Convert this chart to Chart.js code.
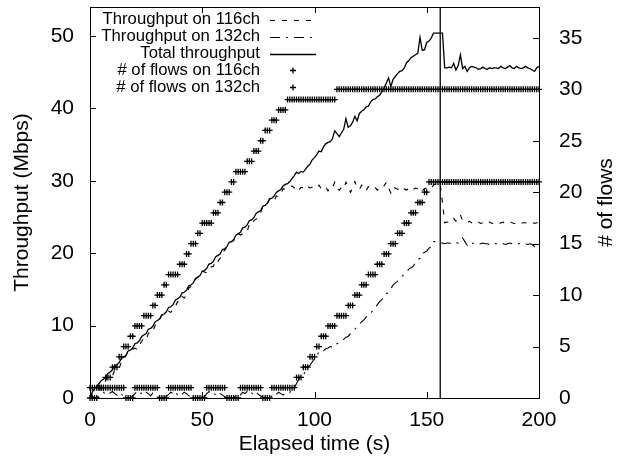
<!DOCTYPE html>
<html>
<head>
<meta charset="utf-8">
<script src="https://cdn.jsdelivr.net/npm/chart.js@4.4.1/dist/chart.umd.min.js"></script>
<style>
  html, body { margin: 0; padding: 0; background: #fff; }
  canvas { display: block; }
</style>
</head>
<body>
<canvas id="flowChart" width="622" height="457"></canvas>
<script>
// ============= data (one sample per second) =============

const seconds = [
    0, 1, 2, 3, 4, 5, 6, 7, 8, 9, 10, 11, 12, 13, 14, 15, 16, 17, 18, 19,
    20, 21, 22, 23, 24, 25, 26, 27, 28, 29, 30, 31, 32, 33, 34, 35, 36, 37, 38, 39,
    40, 41, 42, 43, 44, 45, 46, 47, 48, 49, 50, 51, 52, 53, 54, 55, 56, 57, 58, 59,
    60, 61, 62, 63, 64, 65, 66, 67, 68, 69, 70, 71, 72, 73, 74, 75, 76, 77, 78, 79,
    80, 81, 82, 83, 84, 85, 86, 87, 88, 89, 90, 91, 92, 93, 94, 95, 96, 97, 98, 99,
    100, 101, 102, 103, 104, 105, 106, 107, 108, 109, 110, 111, 112, 113, 114, 115, 116, 117, 118, 119,
    120, 121, 122, 123, 124, 125, 126, 127, 128, 129, 130, 131, 132, 133, 134, 135, 136, 137, 138, 139,
    140, 141, 142, 143, 144, 145, 146, 147, 148, 149, 150, 151, 152, 153, 154, 155, 156, 157, 158, 159,
    160, 161, 162, 163, 164, 165, 166, 167, 168, 169, 170, 171, 172, 173, 174, 175, 176, 177, 178, 179,
    180, 181, 182, 183, 184, 185, 186, 187, 188, 189, 190, 191, 192, 193, 194, 195, 196, 197, 198, 199,
    200
]

// throughput (Mbps)
const thr116 = [
    0.0, 0.6, 1.2, 1.6, 1.7, 1.8, 1.8, 2.4, 3.0, 2.9,
    3.0, 3.9, 4.2, 4.1, 5.0, 5.3, 5.8, 6.5, 6.5, 6.7,
    6.9, 6.7, 7.4, 7.8, 8.3, 8.1, 8.9, 9.3, 9.2, 10.0,
    10.5, 10.9, 11.4, 11.6, 11.7, 12.0, 11.8, 12.3, 12.6, 13.3,
    13.2, 14.0, 13.8, 14.3, 15.2, 15.4, 15.9, 16.4, 16.7, 16.8,
    17.5, 17.4, 17.3, 17.6, 18.1, 18.2, 19.1, 18.9, 19.3, 20.1,
    20.4, 20.9, 21.4, 21.6, 21.7, 22.4, 22.7, 22.5, 22.7, 23.0,
    23.0, 24.0, 23.9, 24.5, 24.7, 25.2, 25.6, 26.4, 26.6, 26.8,
    27.5, 27.3, 27.2, 27.9, 27.8, 28.2, 28.9, 28.8, 29.0, 29.1,
    29.3, 29.0, 29.2, 28.7, 29.1, 29.0, 28.8, 29.2, 29.0, 29.1,
    28.9, 29.0, 29.4, 28.9, 29.0, 29.2, 28.6, 29.1, 29.0, 29.8,
    29.0, 28.7, 29.1, 28.9, 29.8, 29.2, 28.4, 29.0, 29.9, 29.1,
    28.8, 29.4, 29.0, 28.6, 29.2, 29.0, 28.9, 29.1, 28.7, 29.0,
    28.9, 29.3, 29.8, 29.0, 28.3, 29.1, 29.0, 28.8, 29.0, 29.2,
    28.9, 28.7, 29.0, 29.1, 28.8, 29.0, 28.9, 29.1, 28.6, 28.9,
    29.0, 29.2, 29.0, 29.4, 29.6, 29.8, 29.5, 27.0, 24.2, 24.3,
    24.2, 24.5, 24.8, 24.4, 24.9, 25.3, 24.5, 24.3, 24.2, 24.4,
    24.2, 24.0, 24.2, 24.3, 24.1, 24.2, 24.0, 24.2, 24.3, 24.1,
    24.2, 24.2, 24.0, 24.2, 24.3, 24.1, 24.2, 24.3, 24.2, 24.1,
    24.2, 24.3, 24.1, 24.2, 24.2, 24.1, 24.2, 24.3, 24.1, 24.2,
    24.2
]

const thr132 = [
    0.0, 0.2, 0.1, 0.0, 0.3, 0.6, 0.8, 0.5, 0.4, 0.7,
    0.9, 0.6, 0.4, 0.8, 0.5, 0.3, 0.1, 0.0, 0.1, 0.2,
    0.6, 0.9, 0.5, 0.7, 0.4, 0.8, 0.6, 0.3, 0.7, 0.5,
    0.2, 0.0, 0.1, 0.0, 0.2, 0.5, 0.8, 0.6, 0.9, 0.4,
    0.7, 0.5, 0.8, 0.6, 0.3, 0.2, 0.0, 0.1, 0.0, 0.1,
    0.0, 0.2, 0.6, 0.9, 0.5, 0.7, 0.4, 0.8, 0.6, 0.4,
    0.2, 0.0, 0.1, 0.0, 0.2, 0.1, 0.0, 0.4, 0.8, 0.6,
    0.9, 0.5, 0.7, 0.4, 0.8, 0.5, 0.3, 0.1, 0.0, 0.1,
    0.0, 0.3, 0.7, 0.5, 0.8, 0.6, 0.4, 0.7, 0.6, 0.8,
    1.0, 1.4, 2.0, 2.6, 2.9, 3.2, 3.7, 4.2, 4.5, 5.0,
    5.4, 5.8, 6.4, 6.3, 6.5, 6.8, 6.9, 7.1, 7.0, 7.4,
    7.5, 7.6, 7.9, 8.1, 8.4, 8.5, 8.9, 9.3, 9.5, 9.9,
    10.2, 10.5, 10.8, 11.2, 11.3, 11.7, 12.1, 12.5, 12.9, 13.3,
    13.6, 13.9, 14.4, 14.6, 15.1, 15.6, 15.9, 16.1, 16.5, 16.8,
    17.1, 17.4, 17.8, 18.0, 18.2, 18.7, 19.1, 19.3, 20.0, 20.1,
    20.3, 20.7, 20.9, 21.6, 21.6, 21.5, 21.4, 21.4, 21.3, 21.4,
    21.4, 21.3, 21.4, 21.5, 21.4, 21.6, 22.1, 21.6, 21.1, 20.9,
    21.3, 21.4, 21.3, 21.2, 21.3, 21.4, 21.3, 21.3, 21.2, 21.3,
    21.4, 21.3, 21.3, 21.4, 21.3, 21.2, 21.3, 21.4, 21.3, 21.3,
    21.2, 21.3, 21.4, 21.3, 21.3, 21.2, 21.3, 21.2, 20.9, 21.3,
    21.4
]

const thrTotal = [
    0.0, 0.8, 1.3, 1.6, 2.0, 2.4, 2.6, 2.9, 3.4, 3.6,
    3.9, 4.5, 4.6, 4.9, 5.5, 5.6, 5.9, 6.5, 6.6, 6.9,
    7.5, 7.6, 7.9, 8.5, 8.7, 8.9, 9.5, 9.6, 9.9, 10.5,
    10.7, 10.9, 11.5, 11.6, 11.9, 12.5, 12.6, 12.9, 13.5, 13.7,
    13.9, 14.5, 14.6, 14.9, 15.5, 15.6, 15.9, 16.5, 16.7, 16.9,
    17.5, 17.6, 17.9, 18.5, 18.6, 18.9, 19.5, 19.7, 19.9, 20.5,
    20.6, 20.9, 21.5, 21.6, 21.9, 22.5, 22.7, 22.9, 23.5, 23.6,
    23.9, 24.5, 24.6, 24.9, 25.5, 25.7, 25.9, 26.5, 26.6, 26.9,
    27.5, 27.6, 27.9, 28.4, 28.6, 28.8, 29.3, 29.5, 29.6, 29.9,
    30.3, 30.7, 31.2, 31.0, 31.3, 31.2, 31.6, 32.0, 32.3, 32.9,
    33.2, 33.6, 34.1, 34.0, 34.7, 35.1, 35.3, 35.4, 35.8, 36.9,
    36.5, 36.1, 36.6, 37.1, 38.6, 37.4, 37.6, 38.1, 38.9, 38.3,
    39.3, 39.6, 39.8, 40.2, 40.3, 40.9, 41.2, 41.3, 41.6, 41.8,
    42.3, 42.8, 43.5, 44.2, 43.0, 44.0, 44.4, 44.8, 45.1, 45.2,
    45.6, 46.3, 46.6, 47.0, 47.2, 47.4, 47.6, 49.8, 48.0, 48.1,
    49.1, 49.3, 49.7, 50.4, 50.4, 50.4, 50.4, 50.4, 45.6, 45.6,
    45.7, 45.6, 46.2, 45.3, 45.9, 47.4, 45.5, 45.8, 45.1, 45.6,
    45.8, 45.7, 45.6, 45.4, 45.5, 45.7, 45.5, 45.4, 45.6, 45.5,
    45.6, 45.6, 45.5, 45.8, 45.6, 45.5, 45.7, 45.9, 45.6, 45.5,
    45.8, 45.6, 45.5, 45.6, 45.8, 45.6, 45.5, 45.3, 45.1, 45.6,
    45.8
]

// number of flows on each channel
const flows116 = [
    1, 1, 1, 1, 1, 1, 1, 2, 2, 2, 3, 3, 3, 4, 4, 5, 5, 5, 6, 6,
    7, 7, 7, 7, 8, 8, 8, 8, 9, 9, 10, 10, 10, 11, 11, 12, 12, 12, 12, 12,
    13, 13, 13, 14, 14, 15, 15, 15, 16, 16, 17, 17, 17, 17, 17, 18, 18, 18, 19, 19,
    20, 20, 20, 21, 21, 22, 22, 22, 22, 22, 23, 23, 23, 24, 24, 24, 25, 25, 26, 26,
    26, 27, 27, 27, 28, 28, 28, 28, 29, 29, 29, 29, 29, 29, 29, 29, 29, 29, 29, 29,
    29, 29, 29, 29, 29, 29, 29, 29, 29, 29, 30, 30, 30, 30, 30, 30, 30, 30, 30, 30,
    30, 30, 30, 30, 30, 30, 30, 30, 30, 30, 30, 30, 30, 30, 30, 30, 30, 30, 30, 30,
    30, 30, 30, 30, 30, 30, 30, 30, 30, 30, 30, 30, 30, 30, 30, 30, 30, 30, 30, 30,
    30, 30, 30, 30, 30, 30, 30, 30, 30, 30, 30, 30, 30, 30, 30, 30, 30, 30, 30, 30,
    30, 30, 30, 30, 30, 30, 30, 30, 30, 30, 30, 30, 30, 30, 30, 30, 30, 30, 30, 30,
    30
]

const flows132 = [
    0, 0, 0, 0, 1, 1, 1, 1, 1, 1, 1, 1, 1, 1, 1, 1, 0, 0, 0, 0,
    1, 1, 1, 1, 1, 1, 1, 1, 1, 1, 1, 0, 0, 0, 0, 1, 1, 1, 1, 1,
    1, 1, 1, 1, 1, 1, 0, 0, 0, 0, 0, 0, 1, 1, 1, 1, 1, 1, 1, 1,
    1, 0, 0, 0, 0, 0, 0, 1, 1, 1, 1, 1, 1, 1, 1, 1, 1, 0, 0, 0,
    0, 1, 1, 1, 1, 1, 1, 1, 1, 1, 1, 1, 2, 2, 2, 3, 3, 3, 4, 4,
    4, 5, 5, 6, 6, 6, 7, 7, 7, 7, 8, 8, 8, 8, 8, 9, 9, 9, 10, 10,
    10, 11, 11, 11, 12, 12, 12, 12, 13, 13, 13, 14, 14, 14, 15, 15, 15, 16, 16, 16,
    17, 17, 17, 18, 18, 18, 19, 19, 19, 20, 20, 21, 21, 21, 21, 21, 21, 21, 21, 21,
    21, 21, 21, 21, 21, 21, 21, 21, 21, 21, 21, 21, 21, 21, 21, 21, 21, 21, 21, 21,
    21, 21, 21, 21, 21, 21, 21, 21, 21, 21, 21, 21, 21, 21, 21, 21, 21, 21, 21, 21,
    21
]

// moment marked by the vertical line (s)
const markerTime = 156

const xTicks = [0, 50, 100, 150, 200]
const yTicks = [0, 10, 20, 30, 40, 50]
const y2Ticks = [0, 5, 10, 15, 20, 25, 30, 35]
const xMax = 200
const yMax = 54
const y2Max = 38

const seriesLabels = [
    'Throughput on 116ch',
    'Throughput on 132ch',
    'Total throughput',
    '# of flows on 116ch',
    '# of flows on 132ch'
]
const axisTitles = { x: 'Elapsed time (s)', y: 'Throughput (Mbps)', y2: '# of flows' }

// ============= drawing =============

const FONT = "'Liberation Sans', Arial, Helvetica, sans-serif"
const pts = values => seconds.map((t, i) => ({ x: t, y: values[i] }))

// gnuplot-like frame, inner ticks, key and axis titles
const gnuplotLook = {
    id: 'gnuplotLook',
    afterDatasetsDraw(chart) {
        const ctx = chart.ctx
        const a = chart.chartArea
        const { x, y, y2 } = chart.scales
        const tick = 6
        ctx.save()
        ctx.strokeStyle = '#000'
        ctx.lineWidth = 1
        ctx.setLineDash([])
        ctx.strokeRect(a.left + 0.5, a.top + 0.5, a.right - a.left, a.bottom - a.top)

        ctx.beginPath()
        x.ticks.forEach(t => {
            const px = Math.round(x.getPixelForValue(t.value)) + 0.5
            ctx.moveTo(px, a.bottom); ctx.lineTo(px, a.bottom - tick)
            ctx.moveTo(px, a.top); ctx.lineTo(px, a.top + tick)
        })
        y.ticks.forEach(t => {
            const py = Math.round(y.getPixelForValue(t.value)) + 0.5
            ctx.moveTo(a.left, py); ctx.lineTo(a.left + tick, py)
        })
        y2.ticks.forEach(t => {
            const py = Math.round(y2.getPixelForValue(t.value)) + 0.5
            ctx.moveTo(a.right, py); ctx.lineTo(a.right - tick, py)
        })
        ctx.stroke()

        // key, top left
        const keyed = chart.data.datasets.filter(d => d.label)
        const textRight = a.left + 170
        const sampleL = textRight + 10
        const sampleR = textRight + 56
        ctx.font = '16.7px ' + FONT
        ctx.fillStyle = '#000'
        ctx.textAlign = 'right'
        ctx.textBaseline = 'middle'
        keyed.forEach((d, i) => {
            const ry = a.top + 12.5 + i * 17
            ctx.fillText(d.label, textRight, ry)
            if (d.showLine) {
                ctx.save()
                ctx.lineWidth = d.borderWidth
                ctx.setLineDash(d.borderDash || [])
                ctx.beginPath()
                ctx.moveTo(sampleL, Math.round(ry) + 0.5)
                ctx.lineTo(sampleR, Math.round(ry) + 0.5)
                ctx.stroke()
                ctx.restore()
            } else {
                const cx = (sampleL + sampleR) / 2
                const r = d.pointRadius
                ctx.save()
                ctx.lineWidth = d.borderWidth
                ctx.beginPath()
                ctx.moveTo(cx - r, ry); ctx.lineTo(cx + r, ry)
                ctx.moveTo(cx, ry - r); ctx.lineTo(cx, ry + r)
                ctx.stroke()
                ctx.restore()
            }
        })

        // axis titles
        ctx.font = '21px ' + FONT
        ctx.textAlign = 'center'
        ctx.textBaseline = 'alphabetic'
        const midY = (a.top + a.bottom) / 2
        ctx.fillText(axisTitles.x, (a.left + a.right) / 2, chart.height - 7)
        ctx.save()
        ctx.translate(28, midY)
        ctx.rotate(-Math.PI / 2)
        ctx.fillText(axisTitles.y, 0, 0)
        ctx.restore()
        ctx.save()
        ctx.translate(chart.width - 10, midY)
        ctx.rotate(-Math.PI / 2)
        ctx.fillText(axisTitles.y2, 0, 0)
        ctx.restore()
        ctx.restore()
    }
}

function axis(position, min, max, tickValues, size, pad) {
    return {
        type: 'linear',
        position: position,
        min: min,
        max: max,
        grid: { display: false, drawTicks: false },
        border: { display: false },
        ticks: {
            color: '#000',
            padding: pad,
            autoSkip: false,
            maxRotation: 0,
            includeBounds: false,
            font: { family: FONT, size: 21 }
        },
        afterBuildTicks: s => { s.ticks = tickValues.map(v => ({ value: v })) },
        afterFit: s => {
            if (position === 'bottom') s.height = size
            else s.width = size
            s.paddingTop = 0
            s.paddingBottom = 0
            s.paddingLeft = 0
            s.paddingRight = 0
        }
    }
}

const ctx = document.getElementById('flowChart').getContext('2d')

new Chart(ctx, {
    type: 'scatter',
    data: {
        datasets: [
            {
                label: seriesLabels[0],
                data: pts(thr116),
                yAxisID: 'y',
                showLine: true,
                borderColor: '#000',
                borderWidth: 1.1,
                borderDash: [5, 7],
                pointRadius: 0,
                tension: 0
            },
            {
                label: seriesLabels[1],
                data: pts(thr132),
                yAxisID: 'y',
                showLine: true,
                borderColor: '#000',
                borderWidth: 1.1,
                borderDash: [10, 6, 2, 6],
                pointRadius: 0,
                tension: 0
            },
            {
                label: seriesLabels[2],
                data: pts(thrTotal),
                yAxisID: 'y',
                showLine: true,
                borderColor: '#000',
                borderWidth: 1.3,
                pointRadius: 0,
                tension: 0
            },
            {
                label: seriesLabels[3],
                data: pts(flows116),
                yAxisID: 'y2',
                showLine: false,
                pointStyle: 'cross',
                pointRadius: 3,
                borderColor: '#000',
                borderWidth: 1.3,
                clip: false
            },
            {
                label: seriesLabels[4],
                data: pts(flows132),
                yAxisID: 'y2',
                showLine: false,
                pointStyle: 'cross',
                pointRadius: 3,
                borderColor: '#000',
                borderWidth: 1.3,
                clip: false
            },
            {
                data: [{ x: markerTime, y: 0 }, { x: markerTime, y: yMax }],
                yAxisID: 'y',
                showLine: true,
                borderColor: '#000',
                borderWidth: 1.3,
                pointRadius: 0
            }
        ]
    },
    options: {
        responsive: false,
        animation: false,
        events: [],
        layout: { padding: { top: 7, left: 0, right: 0, bottom: 0 } },
        plugins: {
            legend: { display: false },
            tooltip: { enabled: false },
            title: { display: false }
        },
        scales: {
            x: axis('bottom', 0, xMax, xTicks, 59, 10),
            y: axis('left', 0, yMax, yTicks, 90, 16),
            y2: axis('right', 0, y2Max, y2Ticks, 83, 20)
        }
    },
    plugins: [gnuplotLook]
})
</script>
</body>
</html>
